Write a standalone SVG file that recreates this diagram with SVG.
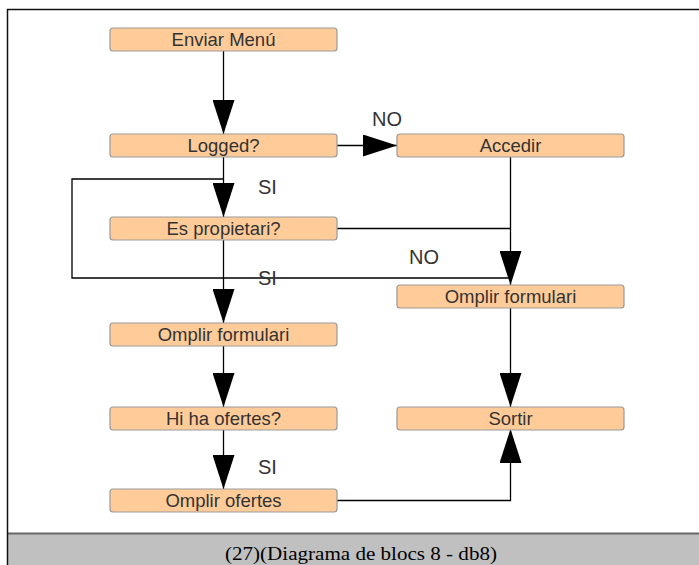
<svg xmlns="http://www.w3.org/2000/svg" width="699" height="565" viewBox="0 0 699 565">
<defs>
<style>
.box rect{fill:#ffcc99;stroke:#999;stroke-width:1.2}
.box text{font-family:"Liberation Sans",Arial,sans-serif;font-size:18.5px;fill:#333;text-anchor:middle}
.lbl{font-family:"Liberation Sans",Arial,sans-serif;font-size:20px;fill:#333}
.con path{fill:none;stroke:#000;stroke-width:1.3}
.con path.arr{marker-end:url(#ah)}
</style>
<marker id="ah" markerUnits="userSpaceOnUse" markerWidth="34" markerHeight="22" refX="34" refY="11" orient="auto" viewBox="0 0 34 22">
<path d="M0,0 L34,11 L0,22 z" fill="#000"/>
</marker>
</defs>
<rect x="0" y="0" width="699" height="565" fill="#fff"/>
<rect x="7" y="534" width="692" height="31" fill="#c0c0c0"/>
<line x1="7" y1="533.5" x2="699" y2="533.5" stroke="#666" stroke-width="2"/>
<line x1="7" y1="9.5" x2="699" y2="9.5" stroke="#111" stroke-width="1.5"/>
<line x1="7.5" y1="9" x2="7.5" y2="565" stroke="#111" stroke-width="1.5"/>
<text x="361" y="560" font-family="'Liberation Serif','Times New Roman',serif" font-size="19" fill="#000" text-anchor="middle" textLength="272" lengthAdjust="spacingAndGlyphs">(27)(Diagrama de blocs 8 - db8)</text>

<g class="con">
<path class="arr" d="M223.5,51 V134"/>
<path class="arr" d="M337,145.5 H397"/>
<path class="arr" d="M223.5,157 V217"/>
<path class="arr" d="M510.5,157 V285"/>
<path d="M337,228.5 H510.5"/>
<path d="M223.5,179 H72 V278 H510.5"/>
<path class="arr" d="M223.5,240 V323"/>
<path class="arr" d="M223.5,346 V407"/>
<path class="arr" d="M510.5,308 V407"/>
<path class="arr" d="M223.5,429 V489"/>
<path class="arr" d="M337,500.5 H510.5 V429"/>
</g>

<g id="enviar" class="box"><rect x="110" y="28" width="227" height="23" rx="3"/><text x="223.5" y="46">Enviar Menú</text></g>
<g id="logged" class="box"><rect x="110" y="134" width="227" height="23" rx="3"/><text x="223.5" y="152">Logged?</text></g>
<g id="accedir" class="box"><rect x="397" y="134" width="227" height="23" rx="3"/><text x="510.5" y="152">Accedir</text></g>
<g id="propietari" class="box"><rect x="110" y="217" width="227" height="23" rx="3"/><text x="223.5" y="235">Es propietari?</text></g>
<g id="formulari2" class="box"><rect x="397" y="285" width="227" height="23" rx="3"/><text x="510.5" y="303">Omplir formulari</text></g>
<g id="formulari1" class="box"><rect x="110" y="323" width="227" height="23" rx="3"/><text x="223.5" y="341">Omplir formulari</text></g>
<g id="ofertes" class="box"><rect x="110" y="407" width="227" height="23" rx="3"/><text x="223.5" y="425">Hi ha ofertes?</text></g>
<g id="sortir" class="box"><rect x="397" y="407" width="227" height="23" rx="3"/><text x="510.5" y="425">Sortir</text></g>
<g id="omplirofertes" class="box"><rect x="110" y="489" width="227" height="23" rx="3"/><text x="223.5" y="507">Omplir ofertes</text></g>

<g id="labels">
<text class="lbl" x="372" y="126">NO</text>
<text class="lbl" x="258" y="194">SI</text>
<text class="lbl" x="409" y="264">NO</text>
<text class="lbl" x="258" y="285">SI</text>
<text class="lbl" x="258" y="474">SI</text>
</g>
</svg>
